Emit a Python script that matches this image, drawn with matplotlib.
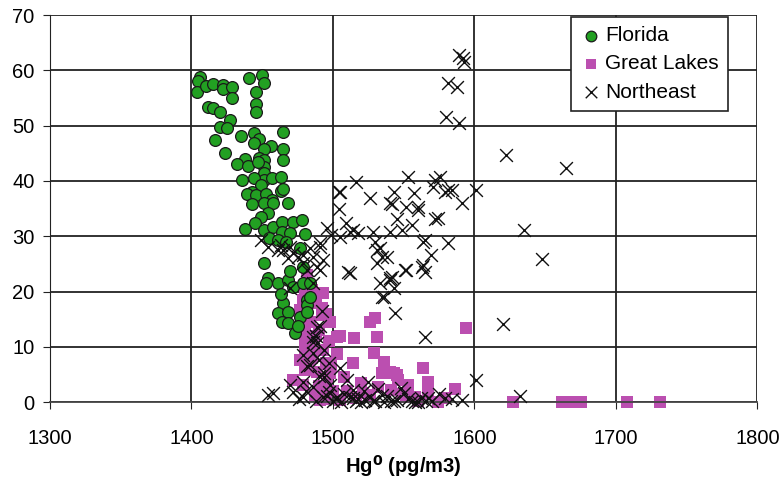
import matplotlib.pyplot as plt

# Florida (green circles)
fl_x = [1406, 1405, 1404, 1410, 1415, 1422, 1422, 1429, 1429, 1441, 1450, 1451, 1446, 1446, 1446,
        1412, 1415, 1420, 1427, 1420, 1425, 1417, 1435, 1444, 1448, 1444, 1465, 1465, 1465, 1456,
        1451, 1424, 1438, 1432, 1440, 1448, 1451, 1451, 1447, 1451, 1451, 1444, 1436, 1457, 1463,
        1449, 1463, 1465, 1443, 1439, 1446, 1453, 1457, 1451, 1443, 1458, 1468, 1454, 1449, 1445,
        1438, 1451, 1458, 1464, 1472, 1478, 1464, 1470, 1480, 1455, 1461, 1467, 1477, 1451, 1454,
        1453, 1461, 1468, 1472, 1479, 1484, 1465, 1482, 1482, 1461, 1468, 1464, 1468, 1477, 1473,
        1482, 1463, 1470, 1484, 1479, 1475]
fl_y = [58.8, 58.0, 56.1, 57.1, 57.5, 57.3, 56.6, 57.0, 55.0, 58.6, 59.1, 57.7, 56.1, 53.9, 52.4,
        53.3, 53.2, 52.4, 51.0, 49.7, 49.5, 47.4, 48.1, 48.6, 47.6, 46.8, 48.8, 45.8, 43.8, 46.3,
        45.8, 45.0, 43.9, 43.0, 42.7, 44.1, 43.8, 42.5, 43.4, 41.4, 40.1, 40.5, 40.1, 40.5, 40.7,
        39.2, 38.2, 38.5, 38.0, 37.6, 37.4, 37.6, 36.5, 36.0, 35.8, 36.0, 36.0, 34.2, 33.5, 32.4,
        31.3, 31.1, 31.6, 32.5, 32.5, 32.9, 30.7, 30.6, 30.4, 29.7, 29.3, 28.9, 27.8, 25.1, 22.4,
        21.5, 21.5, 22.1, 20.8, 21.5, 21.5, 17.9, 18.4, 17.5, 16.1, 16.3, 14.5, 14.3, 15.4, 12.5,
        16.3, 19.5, 23.8, 19.0, 24.5, 13.8]

# Great Lakes (magenta squares)
gl_x = [1480, 1485, 1493, 1492, 1492, 1484, 1498, 1526, 1530, 1480, 1480, 1503, 1505, 1515, 1531,
        1594, 1480, 1486, 1503, 1514, 1529, 1536, 1564, 1567, 1540, 1545, 1546, 1535, 1553, 1586,
        1472, 1489, 1498, 1491, 1521, 1552, 1574, 1543, 1567, 1579, 1479, 1477, 1484, 1477, 1480,
        1479, 1487, 1505, 1516, 1526, 1482, 1627, 1662, 1668, 1675, 1708, 1731, 1495, 1510, 1560,
        1488, 1495, 1490, 1497, 1485, 1495, 1490, 1500, 1495, 1488, 1493, 1499, 1508, 1520, 1532,
        1541, 1549, 1558, 1483, 1496]
gl_y = [20.3, 20.3, 19.7, 17.0, 15.7, 14.5, 14.5, 14.5, 15.2, 12.7, 11.6, 11.8, 11.9, 11.6, 11.8,
        13.4, 9.8, 8.9, 8.7, 7.1, 8.9, 7.2, 6.1, 3.6, 5.4, 4.9, 4.0, 5.2, 3.1, 2.4,
        4.0, 5.4, 5.2, 0.4, 1.6, 0.9, 0.0, 5.2, 1.4, 0.7, 18.4, 16.6, 10.3, 7.6, 5.8,
        3.1, 1.3, 0.4, 0.7, 1.3, 23.0, 0.0, 0.0, 0.0, 0.0, 0.0, 0.0, 2.5, 2.0, 0.3,
        18.0, 16.0, 13.0, 11.0, 8.0, 7.0, 3.0, 2.0, 0.5, 12.0, 9.5, 6.5, 4.5, 3.5, 2.8,
        2.2, 1.5, 1.0, 6.0, 4.0]

# Northeast (black crosses)
ne_x = [1589, 1592, 1593, 1581, 1588, 1580, 1589, 1622, 1665, 1635, 1648, 1620, 1601, 1632, 1591,
        1553, 1572, 1571, 1584, 1601, 1543, 1557, 1540, 1560, 1591, 1574, 1564, 1581, 1572, 1569,
        1564, 1552, 1565, 1540, 1543, 1536, 1565, 1544, 1576, 1581, 1516, 1504, 1526, 1579, 1504,
        1542, 1552, 1560, 1545, 1509, 1514, 1496, 1505, 1528, 1540, 1549, 1556, 1530, 1533, 1538,
        1565, 1563, 1551, 1531, 1511, 1542, 1493, 1491, 1449, 1454, 1465, 1472, 1479, 1486, 1489,
        1479, 1468, 1461, 1499, 1512, 1518, 1512, 1531, 1535, 1533, 1540, 1535, 1491, 1482, 1486,
        1470, 1489, 1486, 1489, 1463, 1470, 1484, 1491, 1475, 1505, 1491, 1486, 1486, 1479, 1490,
        1505, 1494, 1479, 1470, 1472, 1486, 1498, 1510, 1525, 1514, 1458, 1479, 1493, 1503, 1514,
        1526, 1535, 1579, 1567, 1454, 1500, 1508, 1518, 1522, 1530, 1538, 1545, 1550, 1556, 1562,
        1570, 1575, 1584, 1520, 1528, 1541, 1553, 1560, 1497, 1502, 1512, 1532, 1548, 1494, 1482,
        1476, 1488, 1496, 1506, 1516, 1523, 1536, 1543, 1558, 1566, 1492, 1488, 1494, 1484, 1490,
        1481, 1497]
ne_y = [62.7, 62.2, 61.5, 57.7, 57.0, 51.5, 50.5, 44.7, 42.3, 31.1, 25.9, 14.1, 4.0, 1.1, 0.4,
        40.7, 40.1, 38.9, 38.3, 38.3, 38.0, 37.8, 36.0, 35.3, 36.0, 33.3, 28.9, 28.8, 33.1, 26.6,
        24.8, 23.9, 23.5, 22.4, 20.6, 19.0, 11.8, 16.1, 40.7, 38.3, 39.8, 38.0, 36.9, 38.0, 34.9,
        35.8, 35.3, 34.7, 33.1, 32.4, 31.1, 31.5, 29.8, 30.7, 30.7, 31.1, 32.0, 28.9, 27.8, 26.2,
        29.3, 24.4, 23.9, 25.1, 23.5, 22.6, 25.7, 28.0, 29.3, 28.0, 27.5, 26.9, 26.6, 26.2, 24.4,
        25.1, 26.0, 27.5, 30.2, 30.7, 30.6, 23.3, 27.5, 26.2, 21.5, 22.1, 19.0, 23.9, 23.9, 21.5,
        20.6, 13.6, 11.8, 10.7, 28.4, 28.0, 27.8, 28.8, 26.2, 38.0, 13.7, 10.8, 8.9, 8.5, 7.6,
        6.1, 5.2, 3.6, 3.1, 1.8, 2.7, 3.1, 4.0, 3.6, 2.2, 1.6, 0.9, 0.9, 0.9, 0.7,
        0.9, 1.3, 0.7, 0.7, 1.3, 0.3, 1.5, 0.5, 2.0, 0.2, 1.1, 0.4, 1.6, 0.3, 0.8,
        0.2, 1.4, 0.5, 0.1, 0.3, 0.2, 0.6, 0.1, 1.8, 0.6, 1.0, 2.4, 2.6, 4.5, 6.5,
        0.5, 0.3, 1.2, 0.1, 0.2, 0.4, 0.1, 0.2, 0.1, 0.2, 16.5, 12.0, 9.5, 6.8, 4.8,
        2.0, 7.0]

plt.rcParams['font.family'] = ['Liberation Sans', 'DejaVu Sans']

fig = plt.figure(figsize=(7.8, 4.84), dpi=100)
ax = fig.add_axes([0.064, 0.169, 0.907, 0.8])

ax.scatter(ne_x, ne_y, marker='x', s=85, c='#111111', linewidths=1.0, label='Northeast', zorder=3, clip_on=False)
ax.scatter(gl_x, gl_y, marker='s', s=68, c='#bb4fb0', linewidths=0, label='Great Lakes', zorder=2, clip_on=False)
ax.scatter(fl_x, fl_y, marker='o', s=72, c='#22a022', edgecolors='#1a1a1a', linewidths=0.9, label='Florida', zorder=2.5, clip_on=False)

ax.set_xlim(1300, 1800)
ax.set_ylim(0, 70)
ax.set_xticks(range(1300, 1801, 100))
ax.set_yticks(range(0, 71, 10))
ax.grid(True, color='#222222', linewidth=1.3)
ax.set_axisbelow(True)
for s in ['top', 'right']:
    ax.spines[s].set_visible(False)
ax.spines['left'].set_color('#222222')
ax.spines['bottom'].set_color('#444444')
ax.spines['bottom'].set_linewidth(1.3)
ax.tick_params(labelsize=14.5, length=5, color='#222222', pad=6)
ax.tick_params(axis='x', pad=14)
ax.set_xlabel(r'Hg$^\mathbf{0}$ (pg/m3)', fontsize=14.5, fontweight='bold', labelpad=4)

h, l = ax.get_legend_handles_labels()
order = [2, 1, 0]
leg = ax.legend([h[i] for i in order], [l[i] for i in order], loc='upper right',
                bbox_to_anchor=(0.959, 0.995), borderaxespad=0, fontsize=15, fancybox=False,
                edgecolor='#222222', framealpha=1, borderpad=0.45, labelspacing=0.44,
                handletextpad=0.2, handlelength=1.0, markerscale=0.9)
leg.get_frame().set_linewidth(1.2)

plt.savefig('out.png')
